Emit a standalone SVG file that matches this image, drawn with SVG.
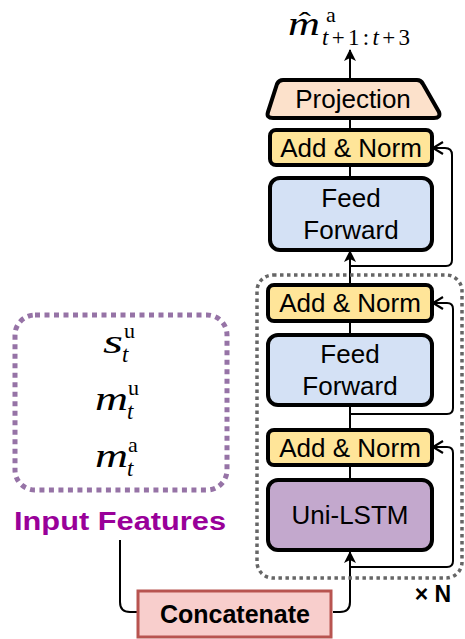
<svg xmlns="http://www.w3.org/2000/svg" width="465" height="639" viewBox="0 0 465 639">
<style>
.box{stroke:#000;stroke-width:4}
.an{fill:#FFE599}
.ff{fill:#D4E1F5}
.lbl{font-family:"Liberation Sans",Arial,sans-serif;font-size:26px;text-anchor:middle;fill:#000}
.ln{fill:none;stroke:#000;stroke-width:2}
.math{font-family:"Liberation Serif","Times New Roman",serif;fill:#000}
.mv{font-size:34px;font-style:italic}
.sub{font-size:23px;font-style:italic}
.sup{font-size:22px}
</style>
<defs>
<marker id="fa" markerWidth="14" markerHeight="14" refX="12" refY="7" orient="auto" markerUnits="userSpaceOnUse">
<path d="M1,1 L13,7 L1,13 L4,7 Z" fill="#000"/>
</marker>
<marker id="oa" markerWidth="14" markerHeight="16" refX="12" refY="8" orient="auto" markerUnits="userSpaceOnUse">
<path d="M2,2 L12,8 L2,14" fill="none" stroke="#000" stroke-width="2.2"/>
</marker>
</defs>
<rect width="465" height="639" fill="#fff"/>

<g id="connectors">
<path class="ln" d="M350,80 L350,50" marker-end="url(#fa)"/>
<path class="ln" d="M350,130 L350,118"/>
<path class="ln" d="M350,178 L350,165"/>
<path class="ln" d="M350,285 L350,251" marker-end="url(#fa)"/>
<path class="ln" d="M350,335 L350,321"/>
<path class="ln" d="M350,430 L350,405"/>
<path class="ln" d="M350,480 L350,465"/>
<path class="ln" d="M350,266 L446,266 Q452,266 452,260 L452,155 Q452,148 445,148 L433,148" marker-end="url(#oa)"/>
<path class="ln" d="M350,414 L447,414 Q453,414 453,408 L453,309 Q453,303 447,303 L433,303" marker-end="url(#oa)"/>
<path class="ln" d="M350,567 L447,567 Q453,567 453,561 L453,453 Q453,447 447,447 L433,447" marker-end="url(#oa)"/>
<path class="ln" d="M333,612 L340,612 Q350,612 350,602 L350,552" marker-end="url(#fa)"/>
<path class="ln" d="M120,540 L120,602 Q120,612 130,612 L137,612"/>
</g>

<g id="nxbox">
<rect x="257" y="275" width="205" height="303" rx="16" fill="none" stroke="#666" stroke-width="3.5" stroke-dasharray="3.5 3.5"/>
<text x="433" y="602" font-family="Liberation Sans,Arial,sans-serif" font-size="23" font-weight="bold" text-anchor="middle">× N</text>
</g>

<g id="output-label">
<text class="math" transform="translate(288,35) scale(1.3,1)"><tspan class="mv" x="0" y="0">m</tspan><tspan x="13" y="-4" font-size="28" text-anchor="middle">ˆ</tspan></text>
<text class="math sup" x="326" y="22">a</text>
<text class="math" x="322" y="45" font-size="23" textLength="88" lengthAdjust="spacing"><tspan font-style="italic">t</tspan>+1:<tspan font-style="italic">t</tspan>+3</text>
</g>

<g id="projection">
<path d="M283,80 L417,80 Q421,80 423,84 L439,112 Q441,118 434,118 L273,118 Q266,118 268,112 L277,84 Q279,80 283,80 Z" fill="#FCE1CB" class="box" stroke-linejoin="round"/>
<text class="lbl" x="353" y="108">Projection</text>
</g>

<g id="addnorm1">
<rect class="box an" x="270" y="130" width="162" height="35" rx="6"/>
<text class="lbl" x="351" y="157">Add &amp; Norm</text>
</g>

<g id="feedforward1">
<rect class="box ff" x="270" y="178" width="162" height="72" rx="10"/>
<text class="lbl" x="351" y="207">Feed</text>
<text class="lbl" x="351" y="239">Forward</text>
</g>

<g id="addnorm2">
<rect class="box an" x="268" y="285" width="164" height="36" rx="6"/>
<text class="lbl" x="350" y="312">Add &amp; Norm</text>
</g>

<g id="feedforward2">
<rect class="box ff" x="268" y="335" width="164" height="70" rx="10"/>
<text class="lbl" x="350" y="363">Feed</text>
<text class="lbl" x="350" y="395">Forward</text>
</g>

<g id="addnorm3">
<rect class="box an" x="268" y="430" width="164" height="35" rx="6"/>
<text class="lbl" x="350" y="457">Add &amp; Norm</text>
</g>

<g id="unilstm">
<rect class="box" fill="#C3A8CD" x="268" y="480" width="164" height="70" rx="10"/>
<text class="lbl" x="350" y="524">Uni-LSTM</text>
</g>

<g id="concatenate">
<rect x="138" y="591" width="193" height="46" fill="#F8CECC" stroke="#B85450" stroke-width="3"/>
<text x="235" y="623" font-family="Liberation Sans,Arial,sans-serif" font-size="25" font-weight="bold" text-anchor="middle">Concatenate</text>
</g>

<g id="input-features">
<rect x="15" y="315" width="212" height="175" rx="20" fill="none" stroke="#9673A6" stroke-width="5" stroke-dasharray="5 4.5"/>
<text class="math mv" x="103" y="353" textLength="20" lengthAdjust="spacingAndGlyphs">s</text>
<text class="math sub" x="122" y="362">t</text>
<text class="math sup" x="124" y="338">u</text>
<text class="math mv" x="95" y="410" textLength="33" lengthAdjust="spacingAndGlyphs">m</text>
<text class="math sub" x="127" y="419">t</text>
<text class="math sup" x="128" y="395">u</text>
<text class="math mv" x="95" y="467" textLength="33" lengthAdjust="spacingAndGlyphs">m</text>
<text class="math sub" x="127" y="476">t</text>
<text class="math sup" x="128" y="452">a</text>
<text x="120" y="530" font-family="Liberation Sans,Arial,sans-serif" font-size="26" font-weight="bold" fill="#990099" text-anchor="middle" textLength="212" lengthAdjust="spacingAndGlyphs">Input Features</text>
</g>
</svg>
